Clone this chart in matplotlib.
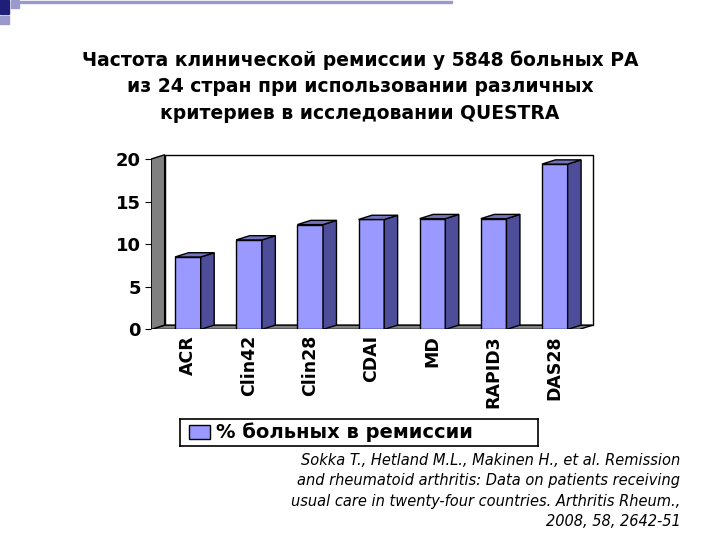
import matplotlib
matplotlib.use("Agg")
import matplotlib.pyplot as plt
from matplotlib.patches import Polygon, Rectangle

categories = ["ACR", "Clin42", "Clin28", "CDAI", "MD", "RAPID3", "DAS28"]
values = [8.5, 10.5, 12.3, 12.9, 13.0, 13.0, 19.4]
yticks = [0, 5, 10, 15, 20]

fig = plt.figure(figsize=(7.2, 5.4), dpi=100)
fig.patch.set_facecolor("white")

for (x, y, w, h, c) in [(0.0, 0.975, 0.012, 0.025, "#1f1f7a"), (0.015, 0.985, 0.012, 0.015, "#9999cc"),
                        (0.0, 0.955, 0.012, 0.015, "#9999cc"), (0.028, 0.995, 0.6, 0.003, "#9999cc")]:
    fig.patches.append(Rectangle((x, y), w, h, transform=fig.transFigure, color=c))

fig.text(0.5, 0.84, "Частота клинической ремиссии у 5848 больных РА\nиз 24 стран при использовании различных\nкритериев в исследовании QUESTRA",
         ha="center", va="center", fontsize=13.5, fontweight="bold", linespacing=1.5)

ax = fig.add_axes([0.21, 0.39, 0.62, 0.325])
ax.set_xlim(-0.6, len(categories) - 0.3)
ax.set_ylim(0, 20.6)
for s in ax.spines.values():
    s.set_visible(False)
dx, dy = 0.22, 0.5
x0, x1 = -0.6, len(categories) - 0.6
ax.add_patch(Polygon([(x0 + dx, dy), (x1 + dx, dy), (x1 + dx, 20 + dy), (x0 + dx, 20 + dy)],
                     closed=True, facecolor="white", edgecolor="black", lw=1))
ax.add_patch(Polygon([(x0, 0), (x1, 0), (x1 + dx, dy), (x0 + dx, dy)],
                     closed=True, facecolor="#808080", edgecolor="black", lw=1))
ax.add_patch(Polygon([(x0, 0), (x0 + dx, dy), (x0 + dx, 20 + dy), (x0, 20)],
                     closed=True, facecolor="#808080", edgecolor="black", lw=1))
w = 0.42
bars = ax.bar(range(len(categories)), values, width=w, color="#9999ff", edgecolor="black", lw=1, zorder=3)
for b, v in zip(bars, values):
    xl = b.get_x(); xr = xl + w
    ax.add_patch(Polygon([(xr, 0), (xr + dx, dy), (xr + dx, v + dy), (xr, v)], closed=True,
                         facecolor="#4d4d99", edgecolor="black", lw=1, zorder=3))
    ax.add_patch(Polygon([(xl, v), (xl + dx, v + dy), (xr + dx, v + dy), (xr, v)], closed=True,
                         facecolor="#7373bf", edgecolor="black", lw=1, zorder=3))
ax.set_yticks(yticks)
ax.set_yticklabels([str(t) for t in yticks], fontsize=13, fontweight="bold")
ax.tick_params(axis="y", length=4)
ax.set_xticks(range(len(categories)))
ax.set_xticklabels(categories, rotation=90, fontsize=12.5, fontweight="bold", family="Liberation Sans Narrow")
ax.tick_params(axis="x", length=0, pad=4)

lax = fig.add_axes([0.25, 0.175, 0.497, 0.05])
lax.set_xticks([]); lax.set_yticks([])
for s in lax.spines.values():
    s.set_linewidth(1.2)
lax.add_patch(Rectangle((0.025, 0.25), 0.06, 0.5, transform=lax.transAxes,
                        facecolor="#9999ff", edgecolor="black"))
lax.text(0.1, 0.5, "% больных в ремиссии", transform=lax.transAxes, va="center",
         fontsize=14, fontweight="bold")

fig.text(0.945, 0.02, "Sokka T., Hetland M.L., Makinen H., et al. Remission\nand rheumatoid arthritis: Data on patients receiving\nusual care in twenty-four countries. Arthritis Rheum.,\n2008, 58, 2642-51",
         ha="right", va="bottom", fontsize=10.5, style="italic", linespacing=1.45, multialignment="right")

fig.savefig("out.png", dpi=100)
